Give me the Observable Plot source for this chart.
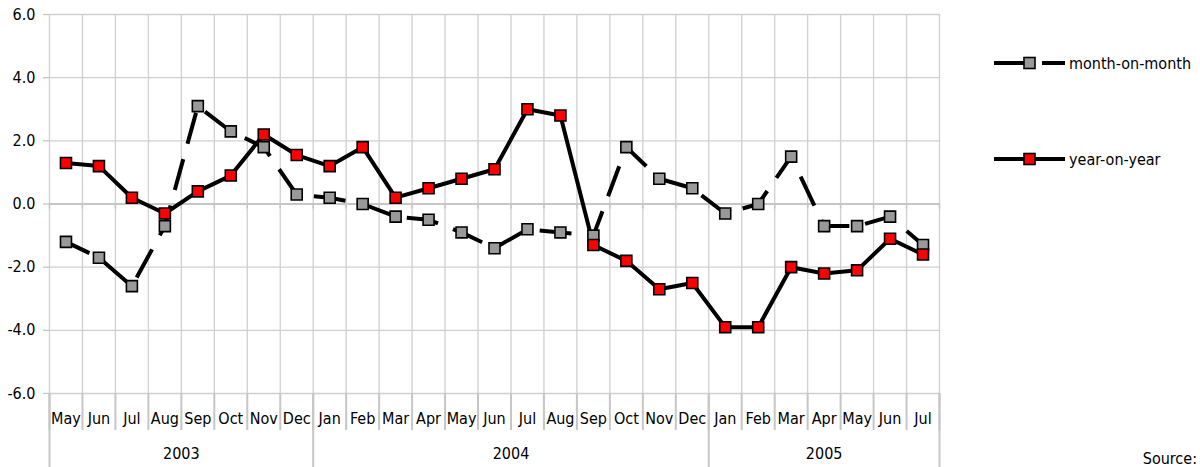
<!DOCTYPE html>
<html>
<head>
<meta charset="utf-8">
<script src="https://cdn.jsdelivr.net/npm/d3@7"></script>
<script src="https://cdn.jsdelivr.net/npm/@observablehq/plot@0.6"></script>
<style>
  html, body { margin: 0; padding: 0; background: #fff; }
  #wrap { position: relative; width: 1200px; height: 467px; overflow: hidden;
          font-family: "DejaVu Sans Condensed", "DejaVu Sans", sans-serif; font-stretch: condensed; font-size: 16px; color: #000; }
  .leg { position: absolute; left: 990px; display: flex; align-items: center; height: 20px; }
  .leg span { margin-left: 2px; }
  #source { position: absolute; right: 3px; top: 449px; }
</style>
</head>
<body>
<div id="wrap"></div>
<script>
// ---- data ----
const months = ["May","Jun","Jul","Aug","Sep","Oct","Nov","Dec",
                "Jan","Feb","Mar","Apr","May","Jun","Jul","Aug","Sep","Oct","Nov","Dec",
                "Jan","Feb","Mar","Apr","May","Jun","Jul"];
const years = ["2003", "2004", "2005"];
const monthsPerYear = [8, 12, 7];
const monthOnMonth = [-1.2, -1.7, -2.6, -0.7, 3.1, 2.3, 1.8, 0.3,
                      0.2, 0.0, -0.4, -0.5, -0.9, -1.4, -0.8, -0.9, -1.0, 1.8, 0.8, 0.5,
                      -0.3, 0.0, 1.5, -0.7, -0.7, -0.4, -1.3];
const yearOnYear = [1.3, 1.2, 0.2, -0.3, 0.4, 0.9, 2.2, 1.55,
                    1.2, 1.8, 0.2, 0.5, 0.8, 1.1, 3.0, 2.8, -1.3, -1.8, -2.7, -2.5,
                    -3.9, -3.9, -2.0, -2.2, -2.1, -1.1, -1.6];
const yTicks = [-6, -4, -2, 0, 2, 4, 6];
const seriesNames = ["month-on-month", "year-on-year"];

// ---- derived ----
const n = months.length;
const idx = d3.range(n);
const mom = idx.map(i => ({x: i + 0.5, y: monthOnMonth[i]}));
const yoy = idx.map(i => ({x: i + 0.5, y: yearOnYear[i]}));
const bounds = d3.range(n + 1);
const yearBounds = [0, ...d3.cumsum(monthsPerYear)];
const yearCenters = monthsPerYear.map((c, k) => yearBounds[k] + c / 2);

const gridColor = "#d0d0d0";
const axisColor = "#c6c6c6";
const dash = "32,16";

const chart = Plot.plot({
  width: 1200,
  height: 467,
  marginLeft: 49,
  marginRight: 261,
  marginTop: 14,
  marginBottom: 74,
  style: {fontFamily: '"DejaVu Sans Condensed", "DejaVu Sans", sans-serif', fontSize: "16px", color: "#000", background: "#fff"},
  x: {domain: [0, n], axis: null, label: null},
  y: {domain: [-6, 6], axis: null, label: null},
  marks: [
    Plot.gridY(yTicks, {stroke: gridColor, strokeOpacity: 1, strokeWidth: 1.3}),
    Plot.gridX(bounds, {stroke: gridColor, strokeOpacity: 1, strokeWidth: 1.3}),
    Plot.axisY({ticks: yTicks, label: null, tickSize: 6, tickPadding: 8, tickFormat: d => d.toFixed(1),
                stroke: axisColor, strokeWidth: 1.3, fill: "#000"}),
    Plot.ruleY([0], {stroke: axisColor, strokeWidth: 2}),
    Plot.ruleX(bounds, {y1: 0, y2: 0, insetBottom: -5, stroke: axisColor, strokeWidth: 1.5}),
    Plot.axisX({ticks: bounds, label: null, tickSize: 37, tickFormat: () => "", stroke: axisColor, strokeWidth: 2}),
    Plot.axisX({ticks: yearBounds, label: null, tickSize: 74, tickFormat: () => "", stroke: axisColor, strokeWidth: 2}),
    Plot.axisX({ticks: idx.map(i => i + 0.5), label: null, tickSize: 0, tickPadding: 19,
                tickFormat: (d, i) => months[i], fill: "#000"}),
    Plot.axisX({ticks: yearCenters, label: null, tickSize: 0, tickPadding: 54,
                tickFormat: (d, i) => years[i], fill: "#000"}),
    Plot.line(mom, {x: "x", y: "y", stroke: "#000", strokeWidth: 4, strokeDasharray: dash, strokeDashoffset: 6, strokeLinejoin: "miter", strokeLinecap: "butt"}),
    Plot.line(yoy, {x: "x", y: "y", stroke: "#000", strokeWidth: 4, strokeLinejoin: "miter"}),
    Plot.dot(mom, {x: "x", y: "y", symbol: "square", r: 6.2, fill: "#999999", stroke: "#000", strokeWidth: 1.6}),
    Plot.dot(yoy, {x: "x", y: "y", symbol: "square", r: 6.2, fill: "#ff0000", stroke: "#000", strokeWidth: 1.6})
  ]
});

const wrap = document.getElementById("wrap");
wrap.appendChild(chart);

function legendItem(name, top, fill, dashed) {
  const div = document.createElement("div");
  div.className = "leg";
  div.style.top = (top - 10) + "px";
  div.innerHTML =
    `<svg width="77" height="20" style="display:block">
       <line x1="4" y1="10" x2="75" y2="10" stroke="#000" stroke-width="4" ${dashed ? `stroke-dasharray="${dash}"` : ""}/>
       <rect x="34" y="4.5" width="11" height="11" fill="${fill}" stroke="#000" stroke-width="1.6"/>
     </svg><span>${name}</span>`;
  wrap.appendChild(div);
}
legendItem(seriesNames[0], 63, "#999999", true);
legendItem(seriesNames[1], 159, "#ff0000", false);

const src = document.createElement("div");
src.id = "source";
src.textContent = "Source:";
wrap.appendChild(src);
</script>
</body>
</html>
